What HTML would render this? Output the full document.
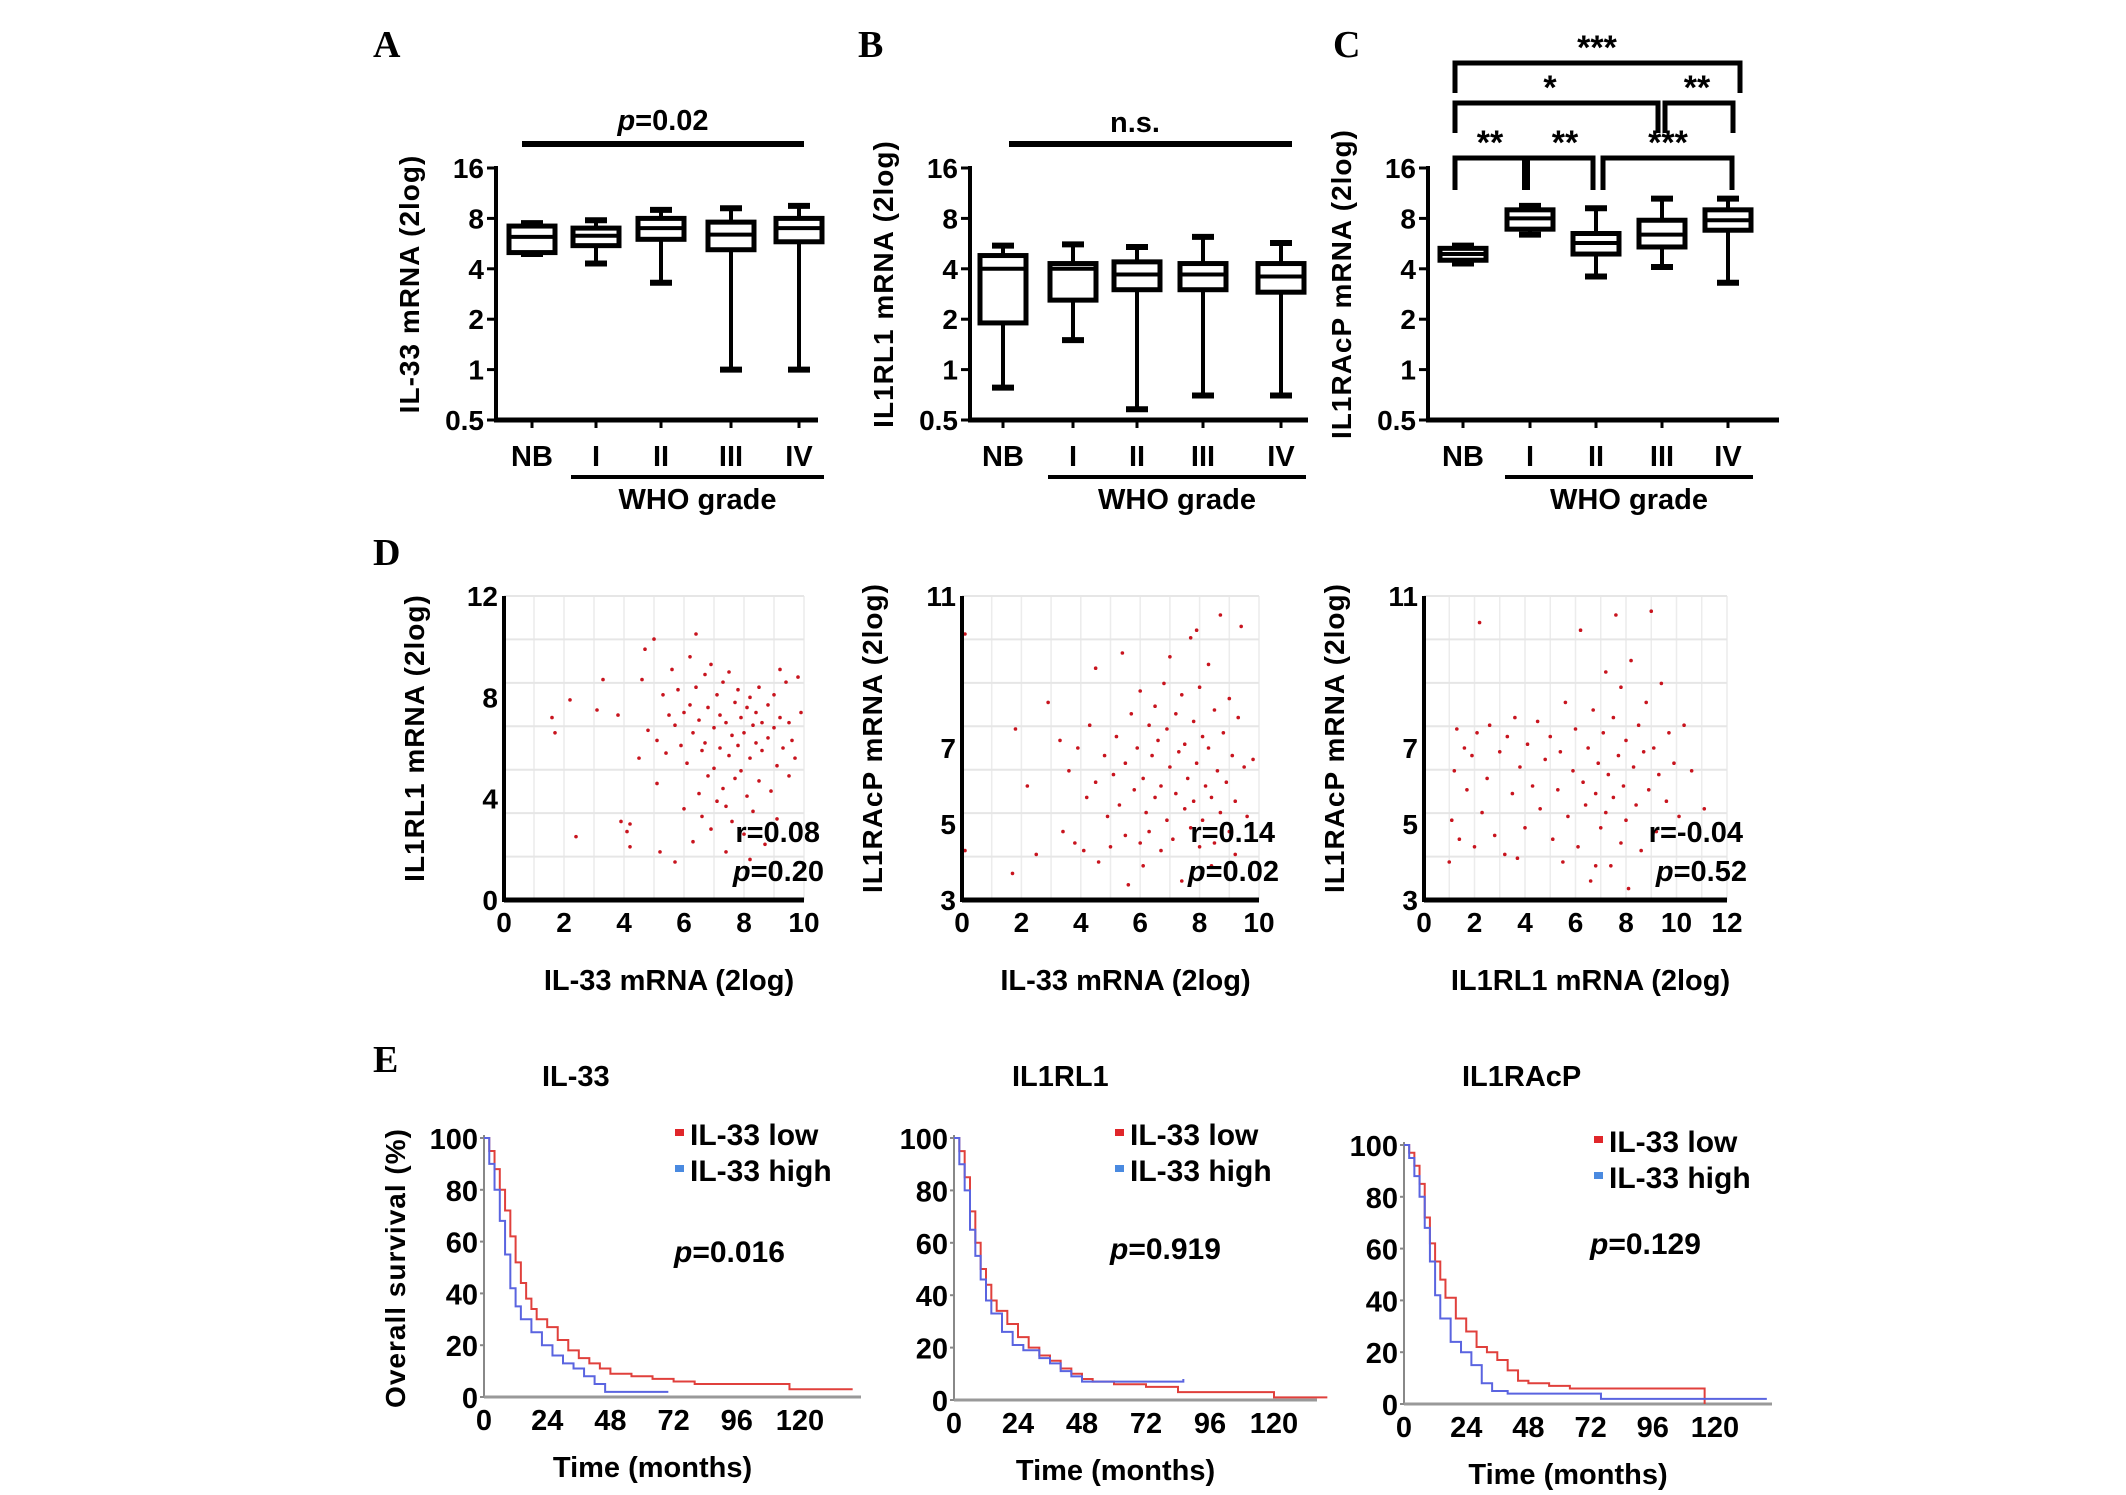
<!DOCTYPE html>
<html><head><meta charset="utf-8"><style>
html,body{margin:0;padding:0;background:#fff;}
svg{display:block;font-family:"Liberation Sans",Arial,sans-serif;font-weight:bold;}
</style></head><body>
<svg id="fig" width="2126" height="1495" viewBox="0 0 2126 1495" xmlns="http://www.w3.org/2000/svg">
<g id="root"></g>
</svg>
<script>
// ===== Data: box plots (log2 scale values: min,q1,median,q3,max) =====
const boxCategories = ["NB","I","II","III","IV"];
const boxA = [[4.9,5.0,6.2,7.2,7.5],[4.3,5.5,6.3,7.0,7.8],[3.3,6.0,7.0,8.0,9.0],[1.0,5.2,6.4,7.6,9.2],[1.0,5.8,7.0,8.0,9.5]];
const boxB = [[0.78,1.9,4.0,4.8,5.5],[1.5,2.6,4.0,4.3,5.6],[0.58,3.0,3.7,4.4,5.4],[0.7,3.0,3.7,4.3,6.2],[0.7,2.9,3.6,4.3,5.7]];
const boxC = [[4.3,4.5,4.9,5.3,5.5],[6.4,6.9,8.0,9.0,9.5],[3.6,4.9,5.7,6.5,9.2],[4.1,5.4,6.4,7.8,10.5],[3.3,6.8,7.8,9.0,10.5]];
const boxTicks = [0.5,1,2,4,8,16];

// ===== Data: scatter plots [x,y] =====
const scatter1 = [[1.6,7.2],[1.7,6.6],[2.2,7.9],[2.4,2.5],[3.1,7.5],[3.3,8.7],[3.8,7.3],[3.9,3.1],[4.1,2.7],[4.2,3.0],[4.2,2.1],[4.5,5.6],[4.6,8.7],[4.7,9.9],[4.8,6.7],[5.0,10.3],[5.1,6.3],[5.1,4.6],[5.2,1.9],[5.3,8.1],[5.4,5.8],[5.5,7.3],[5.6,9.1],[5.7,6.9],[5.7,1.5],[5.8,8.3],[5.9,6.1],[6.0,7.4],[6.0,3.6],[6.1,5.4],[6.2,7.7],[6.2,9.6],[6.3,6.6],[6.3,2.3],[6.4,10.5],[6.4,8.4],[6.5,4.2],[6.5,7.1],[6.6,5.9],[6.6,3.3],[6.7,8.9],[6.7,6.2],[6.8,4.9],[6.8,7.6],[6.9,2.8],[6.9,9.3],[7.0,6.8],[7.0,5.2],[7.1,8.1],[7.1,3.9],[7.2,7.3],[7.2,6.0],[7.3,4.4],[7.3,8.6],[7.4,7.0],[7.4,1.9],[7.5,5.7],[7.5,9.0],[7.6,6.5],[7.6,3.1],[7.7,7.8],[7.7,4.8],[7.8,6.1],[7.8,8.3],[7.9,5.1],[7.9,7.2],[8.0,2.6],[8.0,6.6],[8.1,7.6],[8.1,4.1],[8.2,8.0],[8.2,5.6],[8.3,6.9],[8.3,3.5],[8.4,7.4],[8.4,6.2],[8.5,8.4],[8.5,4.7],[8.6,7.0],[8.6,5.9],[8.7,2.2],[8.8,7.7],[8.8,6.4],[8.9,4.3],[9.0,8.1],[9.0,6.8],[9.1,5.3],[9.2,9.1],[9.2,7.2],[9.3,6.0],[9.4,8.6],[9.5,4.9],[9.5,7.0],[9.6,6.3],[9.7,5.6],[9.8,8.8],[9.9,7.4],[9.1,3.2],[8.2,1.6],[7.4,3.7]];
const scatter2 = [[0.1,10.0],[0.1,4.3],[1.7,3.7],[1.8,7.5],[2.2,6.0],[2.5,4.2],[2.9,8.2],[3.3,7.2],[3.4,4.8],[3.6,6.4],[3.8,4.5],[3.9,7.0],[4.1,4.3],[4.2,5.7],[4.3,7.6],[4.5,6.1],[4.5,9.1],[4.6,4.0],[4.8,6.8],[4.9,5.2],[5.0,4.4],[5.1,6.3],[5.2,7.3],[5.3,5.5],[5.4,9.5],[5.5,6.6],[5.5,4.7],[5.6,3.4],[5.7,7.9],[5.8,5.9],[5.9,7.0],[6.0,4.5],[6.0,8.5],[6.1,6.2],[6.2,5.3],[6.3,7.6],[6.3,4.8],[6.4,6.8],[6.5,8.1],[6.5,5.7],[6.6,7.2],[6.7,4.3],[6.7,6.0],[6.8,8.7],[6.9,5.1],[6.9,7.5],[7.0,6.5],[7.0,9.4],[7.1,4.6],[7.2,7.9],[7.2,5.8],[7.3,6.9],[7.4,3.5],[7.4,8.4],[7.5,5.4],[7.5,7.1],[7.6,6.2],[7.7,9.9],[7.7,4.9],[7.8,7.7],[7.8,5.6],[7.9,6.6],[8.0,8.6],[8.0,4.4],[8.1,7.3],[8.1,5.1],[8.2,6.0],[8.3,9.2],[8.3,7.0],[8.4,5.7],[8.5,4.5],[8.5,8.0],[8.6,6.4],[8.7,10.5],[8.7,5.3],[8.8,7.4],[8.9,6.1],[9.0,4.8],[9.0,8.3],[9.1,6.8],[9.2,5.6],[9.3,7.8],[9.4,10.2],[9.5,6.5],[9.6,5.2],[9.8,6.7],[9.2,4.2],[8.4,3.9],[6.1,3.9],[7.9,10.1]];
const scatter3 = [[1.0,4.0],[1.1,5.1],[1.2,6.4],[1.3,7.5],[1.4,4.6],[1.6,7.0],[1.7,5.9],[1.9,6.8],[2.0,4.4],[2.1,7.4],[2.2,10.3],[2.3,5.3],[2.5,6.2],[2.6,7.6],[2.8,4.7],[3.0,6.9],[3.2,4.2],[3.3,7.3],[3.5,5.8],[3.6,7.8],[3.8,6.5],[4.0,4.9],[4.1,7.1],[4.3,6.0],[4.5,7.7],[4.6,5.4],[4.8,6.7],[5.0,7.3],[5.1,4.6],[5.3,5.9],[5.4,6.9],[5.6,8.2],[5.7,5.2],[5.9,6.4],[6.0,7.5],[6.1,4.4],[6.2,10.1],[6.3,6.1],[6.4,5.5],[6.5,7.0],[6.6,3.5],[6.7,8.0],[6.8,5.8],[6.9,6.6],[7.0,4.9],[7.1,7.4],[7.2,9.0],[7.2,5.3],[7.3,6.3],[7.4,3.9],[7.5,7.8],[7.5,5.7],[7.6,10.5],[7.7,6.8],[7.8,4.5],[7.8,8.6],[7.9,6.0],[8.0,5.1],[8.0,7.2],[8.1,3.3],[8.2,9.3],[8.3,6.5],[8.4,5.5],[8.5,7.6],[8.6,4.3],[8.7,6.9],[8.8,8.2],[8.9,5.9],[9.0,10.6],[9.1,7.0],[9.2,4.8],[9.3,6.3],[9.4,8.7],[9.6,5.6],[9.7,7.4],[9.9,6.6],[10.1,5.2],[10.3,7.6],[10.6,6.4],[10.9,4.7],[11.1,5.4],[6.8,3.9],[5.5,4.0],[3.7,4.1]];

// ===== Data: Kaplan-Meier [months, survival %] =====
const km1Low = [[0,100],[2,95],[4,88],[6,80],[8,72],[10,62],[12,52],[14,44],[16,38],[18,34],[20,30],[24,27],[28,22],[32,18],[36,15],[40,13],[44,11],[48,9],[56,8],[64,7],[72,6],[80,5],[116,5],[116,3],[140,3]];
const km1High = [[0,100],[2,90],[4,80],[6,68],[8,55],[10,42],[12,35],[14,30],[18,25],[22,20],[26,16],[30,13],[34,11],[38,8],[42,5],[46,2],[70,2]];
const km2Low = [[0,100],[2,95],[4,85],[6,72],[8,60],[10,50],[12,44],[14,38],[16,34],[20,29],[24,24],[28,20],[32,17],[36,15],[40,12],[44,10],[48,8],[52,7],[60,6],[72,5],[84,3],[120,1],[140,1]];
const km2High = [[0,100],[2,90],[4,80],[6,65],[8,55],[10,46],[12,38],[14,33],[18,26],[22,21],[26,19],[32,16],[36,14],[40,11],[44,9],[48,7],[60,7],[86,8]];
const km3Low = [[0,100],[2,97],[4,92],[6,85],[8,72],[10,62],[12,55],[14,48],[16,41],[20,33],[24,28],[28,22],[32,20],[36,17],[40,13],[44,9],[48,8],[56,7],[64,6],[80,6],[116,6],[116,0]];
const km3High = [[0,100],[2,95],[4,88],[6,80],[8,68],[10,55],[12,42],[14,33],[18,24],[22,20],[26,15],[30,8],[34,5],[40,4],[60,4],[76,2],[140,2]];
const kmTicksX = [0,24,48,72,96,120];
const kmTicksY = [0,20,40,60,80,100];

const NS="http://www.w3.org/2000/svg";
const root=document.getElementById('root');
function el(tag,attrs,parent,txt){const e=document.createElementNS(NS,tag);for(const k in attrs)e.setAttribute(k,attrs[k]);if(txt!==undefined)e.textContent=txt;(parent||root).appendChild(e);return e;}
function line(x1,y1,x2,y2,w,c,p){return el('line',{x1,y1,x2,y2,stroke:c||'#000','stroke-width':w||4},p);}
function text(x,y,s,size,anchor,p,extra){const t=el('text',{x,y,'font-size':size,'text-anchor':anchor||'middle'},p,s);if(extra)for(const k in extra)t.setAttribute(k,extra[k]);return t;}

// ---- panel letters ----
[["A",373,57],["B",858,57],["C",1333,57],["D",373,565],["E",373,1072]].forEach(l=>{
  const t=text(l[1],l[2],l[0],38,'start',null,{'font-family':'"Liberation Serif",serif'});
  
  
});

// ---- box plots ----
function boxPanel(name,data,ax,axisEnd,cx,ylabel){
  const g=el('g',{});
  
  
  const yTop=168, yBot=420;
  const y=v=>yBot-(Math.log2(v)-Math.log2(0.5))*(yBot-yTop)/5;
  line(ax,yTop-2,ax,yBot+2,4,'#000',g);
  line(ax-2,yBot,axisEnd,yBot,5,'#000',g);
  boxTicks.forEach(t=>{line(ax-9,y(t),ax,y(t),3,'#000',g);
    const tl=text(ax-12,y(t)+10,String(t),28,'end',g);
    
    });
  data.forEach((d,i)=>{
    const x=cx[i], bw=23, cw=11;
    const b=el('g',{},g);
    
    
    line(x,y(d[0]),x,y(d[4]),4,'#000',b);
    line(x-cw,y(d[0]),x+cw,y(d[0]),6,'#000',b);
    line(x-cw,y(d[4]),x+cw,y(d[4]),6,'#000',b);
    el('rect',{x:x-bw,y:y(d[3]),width:2*bw,height:y(d[1])-y(d[3]),fill:'#fff',stroke:'#000','stroke-width':5},b);
    line(x-bw,y(d[2]),x+bw,y(d[2]),4,'#000',b);
    line(x,yBot,x,yBot+8,3,'#000',g);
    const cl=text(x,466,boxCategories[i],29,'middle',g);
    
    
  });
  line(cx[1]-25,477,cx[4]+25,477,4,'#000',g);
  const wl=text((cx[1]+cx[4])/2,509,'WHO grade',29,'middle',g);
  
  
  const yl=text(0,0,ylabel,28,'middle',g,{transform:`translate(${ax-77},${(yTop+yBot)/2-10}) rotate(-90)`,'letter-spacing':'1'});
  
  
  return {g,y};
}
const pA=boxPanel('panel-a-boxplot',boxA,496,818,[532,596,661,731,799],'IL-33 mRNA (2log)');
line(522,144,804,144,6,'#000',pA.g);
const pAt=el('text',{x:663,y:130,'font-size':29,'text-anchor':'middle'},pA.g);


el('tspan',{'font-style':'italic'},pAt,'p');el('tspan',{},pAt,'=0.02');

const pB=boxPanel('panel-b-boxplot',boxB,970,1308,[1003,1073,1137,1203,1281],'IL1RL1 mRNA (2log)');
line(1009,144,1292,144,6,'#000',pB.g);
const nsT=text(1135,132,'n.s.',29,'middle',pB.g);



const pC=boxPanel('panel-c-boxplot',boxC,1428,1779,[1463,1530,1596,1662,1728],'IL1RAcP mRNA (2log)');
function bracket(x1,x2,yb,l1,l2,label,lx){
  const b=el('g',{},pC.g);
  
  
  el('path',{d:`M${x1},${yb+l1} V${yb} H${x2} V${yb+l2}`,fill:'none',stroke:'#000','stroke-width':5},b);
  text(lx,yb-4,label,34,'middle',b);
}
bracket(1455,1740,63,30,30,'***',1597);
bracket(1455,1658,103,30,30,'*',1550);
bracket(1665,1733,103,30,30,'**',1697);
bracket(1455,1525,158,32,32,'**',1490);
bracket(1525,1593,158,32,32,'**',1565);
bracket(1603,1732,158,32,32,'***',1668);
el('rect',{x:1522,y:158,width:8,height:32,fill:'#000'},pC.g);

// ---- scatter plots ----
function scatterPanel(name,data,ax,xmax,xPix,yMin,yMax,yTicks,xTicks,ylabel,xlabel,rTxt,pTxt){
  const g=el('g',{});
  
  
  const yTop=596,yBot=900;
  const x=v=>ax+v*(xPix-ax)/xmax;
  const y=v=>yBot-(v-yMin)*(yBot-yTop)/(yMax-yMin);
  for(let v=1;v<=xmax;v++) line(x(v),yTop,x(v),yBot,1.5,'#ececec',g);
  for(let v=yMin;v<=yMax;v+=(yMax-yMin)/7) line(ax,y(v),x(xmax),y(v),2,'#e6e6e6',g);
  data.forEach(p=>{const c=el('circle',{cx:x(p[0]),cy:y(p[1]),r:1.8,fill:'#c8141e'},g);
    
    });
  line(ax,yTop,ax,yBot+2,4,'#000',g);
  line(ax,yBot,x(xmax),yBot,5,'#000',g);
  yTicks.forEach(t=>{const tl=text(ax-6,y(t)+10,String(t),28,'end',g);
    
    });
  xTicks.forEach(t=>{const tl=text(x(t),932,String(t),28,'middle',g);
    
    });
  const xl=text((ax+x(xmax))/2+15,990,xlabel,29,'middle',g);
  
  
  const yl=text(0,0,ylabel,28,'middle',g,{transform:`translate(${ax-80},${(yTop+yBot)/2-10}) rotate(-90)`,'letter-spacing':'1'});
  
  
  const rl=text(x(xmax)+16,842,rTxt,29,'end',g);
  
  
  const pt=el('text',{x:x(xmax)+20,y:881,'font-size':29,'text-anchor':'end'},g);
  
  
  el('tspan',{'font-style':'italic'},pt,'p');el('tspan',{},pt,pTxt);
}
scatterPanel('scatter-il33-il1rl1',scatter1,504,10,804,0,12,[0,4,8,12],[0,2,4,6,8,10],'IL1RL1 mRNA (2log)','IL-33 mRNA (2log)','r=0.08','=0.20');
scatterPanel('scatter-il33-il1racp',scatter2,962,10,1259,3,11,[3,5,7,11],[0,2,4,6,8,10],'IL1RAcP mRNA (2log)','IL-33 mRNA (2log)','r=0.14','=0.02');
scatterPanel('scatter-il1rl1-il1racp',scatter3,1424,12,1727,3,11,[3,5,7,11],[0,2,4,6,8,10,12],'IL1RAcP mRNA (2log)','IL1RL1 mRNA (2log)','r=-0.04','=0.52');

// ---- KM plots ----
function kmPanel(name,low,high,ax,x120,xEnd,y100,y0,title,pTxt,legX,pX,pY){
  const g=el('g',{});
  
  
  const x=t=>ax+t*(x120-ax)/120;
  const y=s=>y0-s*(y0-y100)/100;
  line(ax,y100-3,ax,y0,2,'#888',g);
  line(ax,y0,xEnd,y0,3,'#999',g);
  kmTicksY.forEach(t=>{line(ax-4,y(t),ax,y(t),2,'#888',g);
    const tl=text(ax-6,y(t)+11,String(t),29,'end',g);
    
    });
  kmTicksX.forEach(t=>{const tl=text(x(t),y0+33,String(t),29,'middle',g);
    
    });
  [[low,'#e0403c','survival-curve-low'],[high,'#5a64e0','survival-curve-high']].forEach(s=>{
    let d=`M${x(s[0][0][0])},${y(s[0][0][1])}`;
    for(let i=1;i<s[0].length;i++) d+=` H${x(s[0][i][0])} V${y(s[0][i][1])}`;
    const p=el('path',{d,fill:'none',stroke:s[1],'stroke-width':2},g);
    
    
  });
  const tt=text(ax+58,1086,title,29,'start',g);
  
  
  const lg=el('g',{},g);
  
  
  el('rect',{x:legX,y:y100-9,width:9,height:7,fill:'#e0262a'},lg);
  text(legX+15,y100+7,'IL-33 low',30,'start',lg);
  el('rect',{x:legX,y:y100+27,width:9,height:7,fill:'#4a8ae0'},lg);
  text(legX+15,y100+43,'IL-33 high',30,'start',lg);
  const pt=el('text',{x:pX,y:pY,'font-size':30,'text-anchor':'start'},g);
  
  
  el('tspan',{'font-style':'italic'},pt,'p');el('tspan',{},pt,pTxt);
  const xl=text((ax+xEnd)/2-20,y0+80,'Time (months)',29,'middle',g);
  
  
}
kmPanel('km-il33',km1Low,km1High,484,800,861,1138,1397,'IL-33','=0.016',675,674,1262);
kmPanel('km-il1rl1',km2Low,km2High,954,1274,1317,1138,1400,'IL1RL1','=0.919',1115,1110,1259);
kmPanel('km-il1racp',km3Low,km3High,1404,1715,1772,1145,1404,'IL1RAcP','=0.129',1594,1590,1254);
const os=text(0,0,'Overall survival (%)',28,'middle',null,{transform:'translate(405,1268) rotate(-90)','letter-spacing':'1'});


</script>
</body></html>
